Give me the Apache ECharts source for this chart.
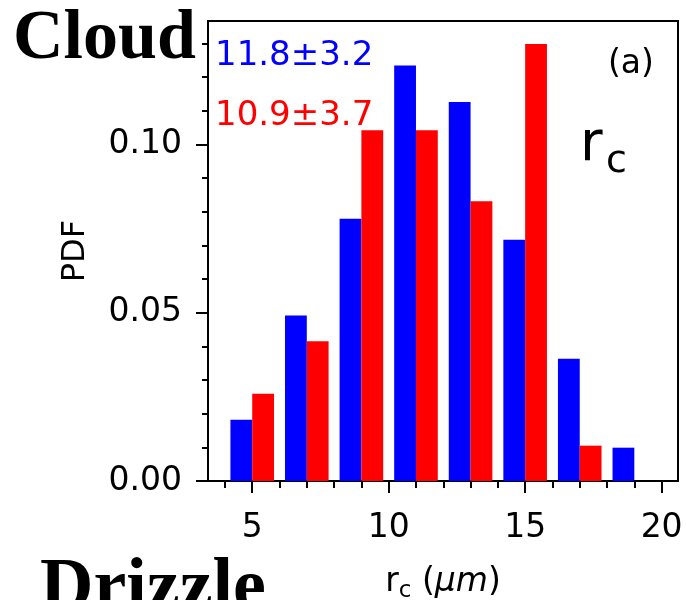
<!DOCTYPE html>
<html>
<head>
<meta charset="utf-8">
<script src="https://cdn.jsdelivr.net/npm/echarts@6/dist/echarts.min.js"></script>
<style>
html, body { margin: 0; padding: 0; background: #fff; }
#chart { width: 686px; height: 600px; }
</style>
</head>
<body>
<div id="chart"></div>
<script>
// bin centres (um), bins are 2 um wide
const binCenters = [5, 7, 9, 11, 13, 15, 17, 19];
const bluePdf = [0.0182, 0.0492, 0.0779, 0.1235, 0.1126, 0.0717, 0.0363, 0.0099];
const redPdf = [0.0259, 0.0415, 0.1042, 0.1042, 0.0831, 0.1299, 0.0105, 0];

const xTicks = [5, 10, 15, 20];
const xMinorTicks = [4, 6, 7, 8, 9, 11, 12, 13, 14, 16, 17, 18, 19];
const yTicks = [0, 0.05, 0.10];
const yMinorTicks = [0.01, 0.02, 0.03, 0.04, 0.06, 0.07, 0.08, 0.09, 0.11, 0.12, 0.13];

const blueLabel = '11.8±3.2';
const redLabel = '10.9±3.7';

const xMin = 3.38, xMax = 20.6, yMax = 0.1367;
const font = 'DejaVu Sans';

const chart = echarts.init(document.getElementById('chart'));

const gridPos = { left: 208, right: 8, top: 21, bottom: 119, containLabel: false, outerBoundsMode: 'none' };

const option = {
  animation: false,
  grid: [
    Object.assign({ show: true, borderColor: '#000', borderWidth: 2, backgroundColor: 'transparent' }, gridPos),
    Object.assign({ show: false }, gridPos)
  ],
  xAxis: [
    {
      type: 'value', gridIndex: 0, min: xMin, max: xMax,
      axisLine: { show: true, lineStyle: { color: '#000', width: 2 } },
      axisTick: { show: true, customValues: xTicks, length: 12, lineStyle: { color: '#000', width: 2 } },
      axisLabel: { customValues: xTicks, color: '#000', fontFamily: font, fontSize: 33, margin: 31 },
      splitLine: { show: false },
      name: '{r|r}{c|c}{p| (}{m|μm}{p|)}',
      nameLocation: 'middle',
      nameGap: 80,
      nameTextStyle: {
        rich: {
          r: { fontFamily: font, fontSize: 33, color: '#000', lineHeight: 42 },
          c: { fontFamily: font, fontSize: 23, color: '#000', lineHeight: 23, verticalAlign: 'bottom' },
          p: { fontFamily: font, fontSize: 33, color: '#000', lineHeight: 42 },
          m: { fontFamily: font, fontSize: 33, fontStyle: 'italic', color: '#000', lineHeight: 42 }
        }
      }
    },
    {
      type: 'value', gridIndex: 1, min: xMin, max: xMax,
      axisLine: { show: false },
      axisTick: { show: true, customValues: xMinorTicks, length: 7, lineStyle: { color: '#000', width: 2 } },
      axisLabel: { show: false },
      splitLine: { show: false }
    }
  ],
  yAxis: [
    {
      type: 'value', gridIndex: 0, min: 0, max: yMax,
      axisLine: { show: true, lineStyle: { color: '#000', width: 2 } },
      axisTick: { show: true, customValues: yTicks, length: 12, lineStyle: { color: '#000', width: 2 } },
      axisLabel: {
        customValues: yTicks, color: '#000', fontFamily: font, fontSize: 33, margin: 26,
        formatter: v => v.toFixed(2)
      },
      splitLine: { show: false },
      name: 'PDF',
      nameLocation: 'middle',
      nameRotate: 90,
      nameGap: 116,
      nameTextStyle: { fontFamily: font, fontSize: 32, color: '#000' }
    },
    {
      type: 'value', gridIndex: 1, min: 0, max: yMax,
      axisLine: { show: false },
      axisTick: { show: true, customValues: yMinorTicks, length: 6, lineStyle: { color: '#000', width: 2 } },
      axisLabel: { show: false },
      splitLine: { show: false }
    }
  ],
  series: [
    {
      type: 'bar', xAxisIndex: 0, yAxisIndex: 0,
      data: binCenters.map((x, i) => [x, bluePdf[i]]),
      barWidth: 21.8, barGap: '0%',
      itemStyle: { color: '#0000ff' }
    },
    {
      type: 'bar', xAxisIndex: 0, yAxisIndex: 0,
      data: binCenters.map((x, i) => [x, redPdf[i]]),
      barWidth: 21.8, barGap: '0%',
      itemStyle: { color: '#ff0000' }
    }
  ],
  graphic: [
    { type: 'text', left: 13, top: 5, style: { text: 'Cloud', font: 'bold 70px "Liberation Serif"', fill: '#000' }, z: 10 },
    { type: 'text', left: 40, top: 553, style: { text: 'Drizzle', font: 'bold 74px "Liberation Serif"', fill: '#000' }, z: 10 },
    { type: 'text', left: 215, top: 39, style: { text: blueLabel, font: '34px "DejaVu Sans"', fill: '#0000ff' }, z: 10 },
    { type: 'text', left: 215, top: 99, style: { text: redLabel, font: '34px "DejaVu Sans"', fill: '#ff0000' }, z: 10 },
    { type: 'text', left: 608, top: 48, style: { text: '(a)', font: '33px "DejaVu Sans"', fill: '#000' }, z: 10 },
    { type: 'text', left: 580, top: 118, style: { text: 'r', font: '55px "DejaVu Sans"', fill: '#000' }, z: 10 },
    { type: 'text', left: 606, top: 143, style: { text: 'c', font: '38px "DejaVu Sans"', fill: '#000' }, z: 10 }
  ]
};

chart.setOption(option);
</script>
</body>
</html>
